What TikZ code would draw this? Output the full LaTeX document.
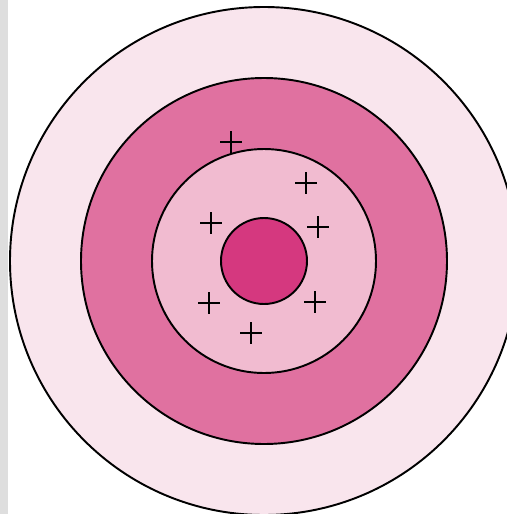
\documentclass[tikz,border=0pt]{standalone}
\definecolor{outerpink}{HTML}{F9E5ED}
\definecolor{ringpink}{HTML}{E071A0}
\definecolor{midpink}{HTML}{F1BBD0}
\definecolor{corepink}{HTML}{D5387F}
\definecolor{stripgray}{HTML}{DEDEDE}
\begin{document}
\begin{tikzpicture}[x=0.02cm, y=-0.02cm,
    ring/.style={draw=black, line width=1.1pt},
    charge/.style={draw=black, line width=1.4pt}]
    \useasboundingbox (0,0) rectangle (507,514);
    \clip (0,0) rectangle (507,514);
    \fill[white] (0,0) rectangle (507,514);
    \fill[stripgray] (0,0) rectangle (8,514);

    % Кольца
    \coordinate (centre) at (264,261);
    \draw[ring, fill=outerpink] (centre) circle (254);
    \draw[ring, fill=ringpink] (centre) circle (183);
    \draw[ring, fill=midpink] (centre) circle (112);
    \draw[ring, fill=corepink] (centre) circle (43);

    % Заряды
    \foreach \px/\py in {231/142, 306/183, 211/223, 318/227, 209/303, 315/302, 251/333}
        \draw[charge] (\px-11,\py) -- (\px+11,\py) (\px,\py-11) -- (\px,\py+11);
\end{tikzpicture}
\end{document}
